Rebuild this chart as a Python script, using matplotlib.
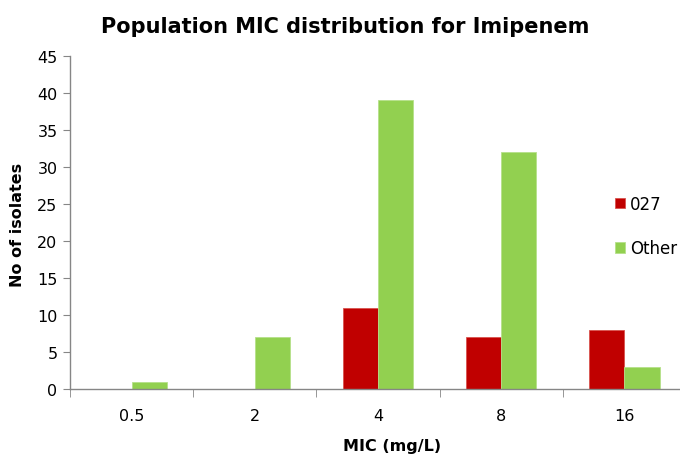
import matplotlib.pyplot as plt
import numpy as np

# data
mic_labels = ['0.5', '2', '4', '8', '16']
isolates_027 = [0, 0, 11, 7, 8]
isolates_other = [1, 7, 39, 32, 3]

red = '#C00000'
green = '#92D050'
axis_grey = '#868686'

fig = plt.figure(figsize=(6.8, 4.64), dpi=100)
ax = fig.add_axes([70 / 680, 1 - 390 / 464, 616 / 680, 333 / 464])

x = np.arange(len(mic_labels))
w = 0.285
ax.bar(x - w / 2, isolates_027, w, color=red, edgecolor='#d9534f', linewidth=0.6, label='027')
ax.bar(x + w / 2, isolates_other, w, color=green, edgecolor='#b5e08a', linewidth=0.6, label='Other')

ax.set_xlim(-0.5, len(mic_labels) - 0.5)
ax.set_ylim(0, 45)
ax.set_yticks(range(0, 46, 5))

ax.set_xticks(x)
ax.set_xticklabels(mic_labels)
ax.set_xticks(np.arange(-0.5, len(mic_labels), 1), minor=True)
ax.tick_params(axis='x', which='major', length=0, pad=14, labelsize=11.5)
ax.tick_params(axis='x', which='minor', length=6, color=axis_grey, direction='out')
ax.tick_params(axis='y', length=5, color=axis_grey, labelsize=11.5, pad=4)

for s in ['top', 'right']:
    ax.spines[s].set_visible(False)
for s in ['left', 'bottom']:
    ax.spines[s].set_color(axis_grey)
    ax.spines[s].set_linewidth(1.0)

fig.text(345 / 680, 1 - 27 / 464, 'Population MIC distribution for Imipenem',
         ha='center', va='center', fontsize=15, fontweight='bold')
fig.text(392 / 680, 1 - 447 / 464, 'MIC (mg/L)', ha='center', va='center',
         fontsize=11.5, fontweight='bold')
fig.text(18 / 680, 1 - 225 / 464, 'No of isolates', ha='center', va='center',
         rotation=90, fontsize=11.5, fontweight='bold')

leg = fig.legend(loc='center left', bbox_to_anchor=(608 / 680, 1 - 227 / 464),
                 frameon=False, fontsize=12, handlelength=0.6, handleheight=0.6,
                 handletextpad=0.3, labelspacing=1.6, borderaxespad=0)

fig.savefig('out.png', dpi=100)
